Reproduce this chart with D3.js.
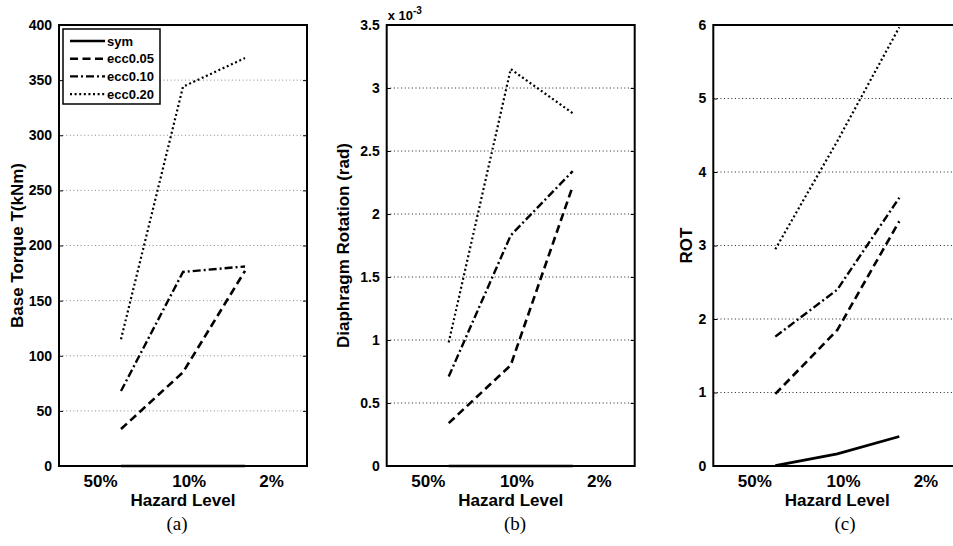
<!DOCTYPE html>
<html><head><meta charset="utf-8">
<script src="https://cdn.jsdelivr.net/npm/d3@7"></script>
<style>body{margin:0;background:#fff;overflow:hidden} svg{display:block}</style>
</head><body>
<script>
// ---- data ----
const xPoints = [1, 2, 3];
const hazardLabels = ["50%", "10%", "2%"];
const hazardLabelPos = [0.67, 2.1, 3.43];
const seriesNames = ["sym", "ecc0.05", "ecc0.10", "ecc0.20"];

const torqueSym    = [0, 0, 0];
const torqueEcc005 = [33.5, 85, 177];
const torqueEcc010 = [68, 176, 181];
const torqueEcc020 = [115, 344, 370];
const torqueTicks  = [0, 50, 100, 150, 200, 250, 300, 350, 400];

const rotSym    = [0, 0, 0];
const rotEcc005 = [0.34, 0.80, 2.22];
const rotEcc010 = [0.71, 1.83, 2.34];
const rotEcc020 = [0.98, 3.15, 2.80];
const rotTicks  = [0, 0.5, 1, 1.5, 2, 2.5, 3, 3.5];

const rotIdxSym    = [0.005, 0.165, 0.40];
const rotIdxEcc005 = [0.98, 1.85, 3.33];
const rotIdxEcc010 = [1.76, 2.40, 3.65];
const rotIdxEcc020 = [2.95, 4.42, 5.97];
const rotIdxTicks  = [0, 1, 2, 3, 4, 5, 6];

const yTitles = ["Base Torque T(kNm)", "Diaphragm Rotation (rad)", "ROT"];
const captions = ["(a)", "(b)", "(c)"];

// ---- layout ----
const width = 953, height = 546;
const plotW = 248, plotH = 441, plotTop = 25;
const panelLeft = [59, 386.7, 713.3];
const dashes = [null, "8,4.5", "8,3,2,3", "2,2.6"];
const lineWidths = [2.6, 2.6, 2.4, 2.2];

const panels = [
  {series: [torqueSym, torqueEcc005, torqueEcc010, torqueEcc020], ticks: torqueTicks, max: 400, gridColor: "#888", titleX: 17, capX: 177},
  {series: [rotSym, rotEcc005, rotEcc010, rotEcc020], ticks: rotTicks, max: 3.5, gridColor: "#222", titleX: 343, capX: 515},
  {series: [rotIdxSym, rotIdxEcc005, rotIdxEcc010, rotIdxEcc020], ticks: rotIdxTicks, max: 6, gridColor: "#222", titleX: 686, capX: 845}
];

const svg = d3.select("body").append("svg").attr("width", width).attr("height", height);

panels.forEach((p, i) => {
  const left = panelLeft[i];
  const x = d3.scaleLinear().domain([0, 4]).range([left, left + plotW]);
  const y = d3.scaleLinear().domain([0, p.max]).range([plotTop + plotH, plotTop]);
  const g = svg.append("g");

  // grid
  g.selectAll("line.grid").data(p.ticks.filter(t => t > 0 && t < p.max)).join("line")
    .attr("x1", left).attr("x2", left + plotW)
    .attr("y1", d => y(d)).attr("y2", d => y(d))
    .attr("stroke", p.gridColor).attr("stroke-width", 1).attr("stroke-dasharray", "1,2.6");

  // y axis left with inside ticks
  const ax = g.append("g").attr("transform", `translate(${left},0)`)
    .call(d3.axisLeft(y).tickValues(p.ticks).tickSize(-4).tickPadding(7).tickFormat(d3.format("")));
  ax.select(".domain").remove();
  ax.selectAll("line").attr("stroke", "#000").attr("stroke-width", 1);
  ax.selectAll("text").attr("font-family", "Liberation Sans, Arial, sans-serif")
    .attr("font-weight", "bold").attr("font-size", 14).attr("fill", "#000");
  const axR = g.append("g").attr("transform", `translate(${left + plotW},0)`)
    .call(d3.axisRight(y).tickValues(p.ticks).tickSize(-4).tickFormat(""));
  axR.select(".domain").remove();
  axR.selectAll("line").attr("stroke", "#000").attr("stroke-width", 1);

  // series
  const line = d3.line().x((d, k) => x(xPoints[k])).y(d => y(d));
  p.series.forEach((s, j) => {
    g.append("path").datum(s).attr("d", line)
      .attr("fill", "none").attr("stroke", "#000")
      .attr("stroke-width", lineWidths[j])
      .attr("stroke-dasharray", dashes[j]);
  });

  // box
  g.append("rect").attr("x", left).attr("y", plotTop).attr("width", plotW).attr("height", plotH)
    .attr("fill", "none").attr("stroke", "#000").attr("stroke-width", 2);

  // hazard labels
  g.selectAll("text.hz").data(hazardLabels).join("text")
    .attr("x", (d, k) => x(hazardLabelPos[k])).attr("y", 487)
    .attr("text-anchor", "middle").attr("font-family", "Liberation Sans, Arial, sans-serif")
    .attr("font-weight", "bold").attr("font-size", 17).text(d => d);
  g.append("text").attr("x", left + plotW / 2).attr("y", 506)
    .attr("text-anchor", "middle").attr("font-family", "Liberation Sans, Arial, sans-serif")
    .attr("font-weight", "bold").attr("font-size", 17).text("Hazard Level");

  // y title
  g.append("text").attr("transform", `translate(${p.titleX + 6},${plotTop + plotH / 2}) rotate(-90)`)
    .attr("text-anchor", "middle").attr("font-family", "Liberation Sans, Arial, sans-serif")
    .attr("font-weight", "bold").attr("font-size", 17).text(yTitles[i]);

  // caption
  g.append("text").attr("x", p.capX).attr("y", 530).attr("text-anchor", "middle")
    .attr("font-family", "Liberation Serif, Times New Roman, serif").attr("font-size", 19).text(captions[i]);

  if (i === 1) {
    const t = g.append("text").attr("x", left + 1).attr("y", 20)
      .attr("font-family", "Liberation Sans, Arial, sans-serif").attr("font-weight", "bold").attr("font-size", 13);
    t.append("tspan").text("x 10");
    t.append("tspan").attr("dy", -6).attr("font-size", 10).text("-3");
  }

  if (i === 0) {
    const lg = g.append("g");
    lg.append("rect").attr("x", 63).attr("y", 29).attr("width", 97).attr("height", 75)
      .attr("fill", "#fff").attr("stroke", "#000").attr("stroke-width", 1.5);
    seriesNames.forEach((n, j) => {
      const yy = 41 + j * 17.7;
      lg.append("line").attr("x1", 70).attr("x2", 105).attr("y1", yy).attr("y2", yy)
        .attr("stroke", "#000").attr("stroke-width", lineWidths[j]).attr("stroke-dasharray", dashes[j]);
      lg.append("text").attr("x", 107).attr("y", yy + 4.5)
        .attr("font-family", "Liberation Sans, Arial, sans-serif").attr("font-weight", "bold")
        .attr("font-size", 13).text(n);
    });
  }
});
</script>
</body></html>
